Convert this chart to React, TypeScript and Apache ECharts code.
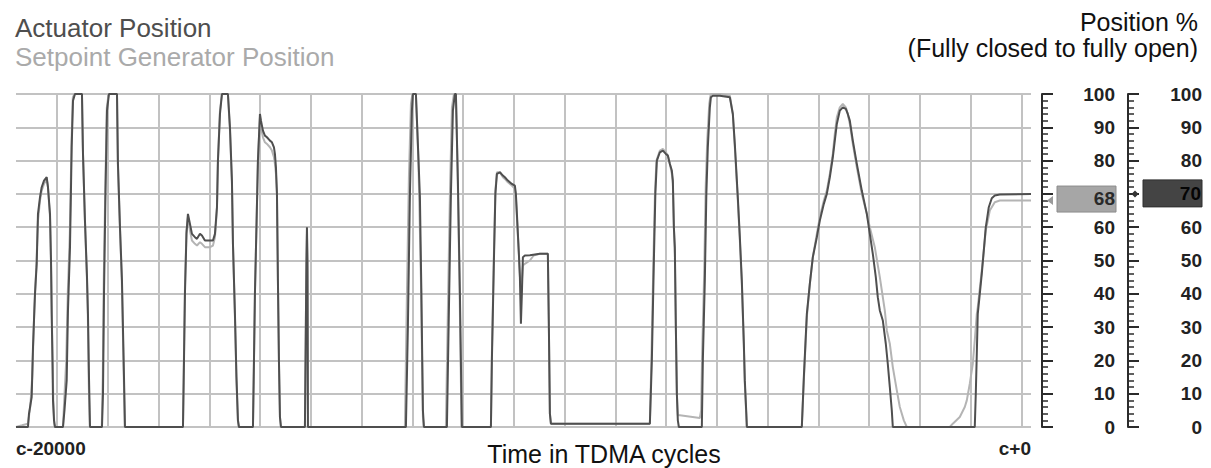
import React, { useEffect, useRef } from 'react';
import * as echarts from 'echarts';

const FONT = '"Liberation Sans", Arial, Helvetica, sans-serif';

const xMin = -20000;
const xMax = 0;
const xTickLabels = ['c-20000', 'c+0'];

const titleLines = ['Actuator Position', 'Setpoint Generator Position'];
const axisTitleLines = ['Position %', '(Fully closed to fully open)'];
const xAxisTitle = 'Time in TDMA cycles';

// grid lines every 1000 cycles, offset from the window start
const gridFirst = -19190;
const gridStep = 1000;
const gridCount = 20;

const currentSetpoint = 68;
const currentActuator = 70;

const actuatorPosition: [number, number][] = [
  [-20000, 0], [-19764, 0], [-19744, 4], [-19691, 9], [-19665, 24], [-19626, 40], [-19592, 49], [-19567, 64],
  [-19527, 69], [-19494, 72], [-19448, 74], [-19395, 75], [-19370, 72], [-19330, 64], [-19310, 50], [-19297, 34],
  [-19281, 20], [-19271, 8], [-19251, 2], [-19232, 0],
  [-19074, 0], [-19045, 5], [-19001, 14], [-18976, 35], [-18936, 54], [-18903, 84], [-18877, 98], [-18838, 100],
  [-18700, 100], [-18680, 82], [-18641, 62], [-18601, 45], [-18582, 34], [-18562, 15], [-18542, 0],
  [-18306, 0], [-18286, 10], [-18266, 40], [-18237, 70], [-18207, 95], [-18168, 100], [-18010, 100], [-17991, 79],
  [-17951, 60], [-17912, 44], [-17872, 15], [-17853, 0],
  [-16710, 0], [-16690, 20], [-16671, 40], [-16641, 58], [-16612, 64], [-16572, 61], [-16533, 58], [-16474, 57],
  [-16434, 56.5], [-16375, 58], [-16336, 57.5], [-16277, 56], [-16178, 56], [-16119, 56], [-16080, 58], [-16060, 62],
  [-16040, 66], [-16021, 80], [-15981, 94], [-15942, 100], [-15824, 100], [-15784, 90], [-15745, 74], [-15725, 55],
  [-15686, 34], [-15656, 15], [-15627, 2], [-15607, 0],
  [-15331, 0], [-15311, 20], [-15292, 40], [-15262, 60], [-15233, 80], [-15193, 94], [-15173, 92], [-15134, 89],
  [-15095, 87.5], [-15055, 87], [-14996, 86], [-14957, 85.5], [-14917, 84], [-14898, 82], [-14878, 78], [-14858, 70],
  [-14839, 44], [-14819, 20], [-14799, 3], [-14779, 0],
  [-14307, 0], [-14277, 50], [-14267, 60], [-14257, 50], [-14248, 0],
  [-12317, 0], [-12278, 30], [-12238, 70], [-12199, 95], [-12179, 100], [-12120, 100], [-12081, 85], [-12041, 69],
  [-12012, 40], [-11982, 5], [-11962, 0],
  [-11509, 0], [-11470, 35], [-11430, 70], [-11391, 95], [-11352, 100], [-11332, 100], [-11293, 74], [-11253, 40],
  [-11224, 10], [-11214, 0],
  [-10642, 0], [-10623, 20], [-10583, 50], [-10554, 70], [-10524, 76], [-10465, 76.5], [-10406, 75.5], [-10367, 75],
  [-10308, 74], [-10229, 73], [-10170, 72.5], [-10150, 70], [-10130, 64], [-10091, 52], [-10071, 45], [-10051, 31],
  [-10032, 40], [-10012, 51], [-9973, 51.5], [-9874, 51.6], [-9677, 52], [-9520, 52], [-9500, 30], [-9480, 4],
  [-9460, 1],
  [-7510, 1], [-7471, 20], [-7431, 50], [-7402, 70], [-7372, 80], [-7313, 82.5], [-7254, 83], [-7195, 82],
  [-7156, 81.5], [-7116, 79], [-7077, 77], [-7057, 74], [-7037, 60], [-7018, 54], [-6998, 30], [-6978, 10],
  [-6959, 2], [-6939, 0],
  [-6486, 0], [-6466, 20], [-6427, 44], [-6397, 70], [-6368, 84], [-6328, 96], [-6308, 99], [-6269, 99.5],
  [-6131, 99.5], [-5934, 99], [-5875, 94], [-5836, 85], [-5777, 69], [-5737, 57], [-5698, 44], [-5658, 25],
  [-5639, 14], [-5609, 4], [-5599, 0],
  [-4516, 0], [-4476, 15], [-4417, 34], [-4358, 43], [-4299, 51], [-4220, 57], [-4161, 62], [-4082, 67],
  [-4023, 70], [-3964, 75], [-3905, 81], [-3866, 86], [-3826, 91], [-3767, 95], [-3708, 96], [-3649, 95.5],
  [-3610, 94], [-3570, 92], [-3511, 86], [-3432, 79], [-3334, 71], [-3235, 64], [-3176, 58], [-3117, 52],
  [-3058, 45], [-3019, 39], [-2979, 35], [-2920, 32], [-2861, 25], [-2822, 19], [-2782, 12], [-2743, 5],
  [-2723, 0],
  [-1108, 0], [-1088, 10], [-1068, 22], [-1049, 34], [-1009, 40], [-970, 46], [-930, 53], [-891, 60],
  [-871, 62], [-832, 66], [-773, 68.7], [-714, 69.5], [-615, 69.8], [0, 70],
];

const setpointPosition: [number, number][] = [
  [-20000, 0], [-19880, 0.5], [-19764, 1], [-19720, 6], [-19680, 15], [-19640, 35], [-19600, 48], [-19567, 62],
  [-19527, 68], [-19494, 71], [-19448, 73], [-19395, 74.5], [-19370, 72], [-19330, 63], [-19305, 45], [-19285, 25],
  [-19265, 8], [-19245, 1], [-19232, 0],
  [-19074, 0], [-19050, 8], [-19010, 20], [-18980, 40], [-18940, 58], [-18905, 86], [-18880, 99], [-18845, 100],
  [-18700, 100], [-18685, 85], [-18645, 63], [-18605, 46], [-18585, 34], [-18565, 12], [-18545, 0],
  [-18310, 0], [-18290, 15], [-18270, 45], [-18240, 72], [-18210, 96], [-18175, 100], [-18010, 100], [-17995, 80],
  [-17955, 61], [-17915, 44], [-17875, 14], [-17855, 0],
  [-16710, 0], [-16690, 22], [-16671, 42], [-16641, 59], [-16612, 63], [-16572, 59], [-16533, 56], [-16474, 55],
  [-16434, 54.5], [-16375, 55.5], [-16336, 55], [-16277, 54], [-16178, 54], [-16119, 54.5], [-16080, 57], [-16060, 61],
  [-16040, 66], [-16021, 80], [-15981, 95], [-15942, 100], [-15824, 100], [-15784, 89], [-15745, 73], [-15725, 55],
  [-15686, 33], [-15656, 14], [-15627, 2], [-15607, 0],
  [-15331, 0], [-15311, 20], [-15292, 40], [-15262, 60], [-15233, 80], [-15193, 93], [-15173, 90], [-15134, 87],
  [-15095, 85.5], [-15055, 85], [-14996, 84], [-14957, 83], [-14917, 81], [-14898, 79], [-14878, 76], [-14858, 70],
  [-14839, 44], [-14819, 20], [-14799, 3], [-14779, 0],
  [-14307, 0], [-14280, 45], [-14267, 58], [-14255, 45], [-14245, 0],
  [-12337, 0], [-12297, 40], [-12258, 75], [-12218, 97], [-12189, 100], [-12120, 100], [-12071, 80], [-12022, 45],
  [-11982, 3], [-11965, 0],
  [-11529, 0], [-11490, 35], [-11450, 70], [-11410, 96], [-11370, 100], [-11332, 100], [-11300, 78], [-11260, 42],
  [-11230, 10], [-11220, 0],
  [-10642, 0], [-10623, 22], [-10583, 52], [-10554, 71], [-10524, 76.5], [-10465, 76.5], [-10406, 75], [-10367, 74.5],
  [-10308, 73.5], [-10229, 72.5], [-10170, 71.5], [-10150, 69], [-10130, 63], [-10091, 52], [-10060, 42], [-10032, 44],
  [-10012, 48.5], [-9973, 49], [-9874, 50], [-9800, 51.5], [-9677, 52], [-9520, 52], [-9500, 30], [-9480, 4],
  [-9460, 1],
  [-7510, 1], [-7480, 20], [-7440, 50], [-7410, 70], [-7380, 80], [-7313, 83], [-7254, 83.5], [-7195, 82.5],
  [-7156, 81.5], [-7116, 79], [-7077, 76], [-7057, 73], [-7037, 60], [-7018, 52], [-6998, 30], [-6978, 10],
  [-6959, 3.5], [-6919, 3.5], [-6525, 2.7], [-6500, 5],
  [-6480, 22], [-6440, 46], [-6410, 72], [-6380, 86], [-6340, 97], [-6310, 100], [-6269, 100], [-6131, 100],
  [-5934, 99.5], [-5875, 94], [-5836, 84], [-5777, 68], [-5737, 56], [-5698, 43], [-5658, 24], [-5639, 13],
  [-5609, 3], [-5599, 0],
  [-4516, 0], [-4476, 14], [-4417, 33], [-4358, 43], [-4299, 51], [-4220, 58], [-4161, 63], [-4082, 68],
  [-4023, 71], [-3964, 76], [-3905, 82], [-3866, 88], [-3826, 93], [-3767, 96], [-3708, 97], [-3649, 96],
  [-3610, 94], [-3570, 91], [-3511, 85], [-3432, 78], [-3334, 70], [-3235, 64], [-3176, 60], [-3078, 54],
  [-2979, 45], [-2881, 35], [-2841, 29], [-2782, 25], [-2723, 18], [-2644, 11], [-2585, 6], [-2506, 2],
  [-2447, 0],
  [-1600, 0], [-1541, 1], [-1403, 3], [-1305, 6], [-1265, 8], [-1206, 13], [-1147, 19], [-1108, 26],
  [-1068, 34], [-1049, 36], [-970, 47], [-891, 59], [-812, 65], [-714, 67.5], [-615, 68], [0, 68],
];

const GRID_COLOR = '#c2c2c2';
const AXIS_COLOR = '#2b2b2b';
const DARK_LINE = '#4f4f4f';
const LIGHT_LINE = '#b4b4b4';

// the axis label hidden behind the current-value box
function positionAxis(offset: number, margin: number, current: number) {
  return {
    type: 'value',
    position: 'right',
    offset,
    min: 0,
    max: 100,
    interval: 10,
    axisLine: { show: true, lineStyle: { color: AXIS_COLOR, width: 2 } },
    axisTick: { show: true, inside: false, length: 11, lineStyle: { color: AXIS_COLOR, width: 2 } },
    minorTick: { show: true, splitNumber: 5, length: 6, lineStyle: { color: AXIS_COLOR, width: 1.5 } },
    splitLine: { show: false },
    minorSplitLine: { show: false },
    axisLabel: {
      show: true,
      align: 'right',
      margin,
      fontSize: 19,
      fontWeight: 'bold',
      color: '#222',
      fontFamily: FONT,
      formatter: (v: number) => (Math.abs(v - current) < 6 ? '' : String(v)),
    },
  };
}

type MarkerCfg = {
  boxLeft: number; boxTop: number; boxW: number; boxH: number;
  fill: string; stroke: string; textColor: string; textDy: number;
  pointer: [number, number][]; pointerColor: string;
};

function markerSeries(value: number, yAxisIndex: number, cfg: MarkerCfg) {
  return {
    type: 'custom',
    xAxisIndex: 0,
    yAxisIndex,
    data: [[xMax, value]],
    clip: false,
    silent: true,
    z: 10,
    renderItem: (_params: any, api: any) => {
      const p = api.coord([api.value(0), api.value(1)]);
      const x = p[0];
      const y = p[1];
      return {
        type: 'group',
        children: [
          {
            type: 'polygon',
            shape: { points: cfg.pointer.map(([dx, dy]) => [x + dx, y + dy]) },
            style: { fill: cfg.pointerColor },
          },
          {
            type: 'rect',
            shape: { x: x + cfg.boxLeft, y: y + cfg.boxTop, width: cfg.boxW, height: cfg.boxH },
            style: { fill: cfg.fill, stroke: cfg.stroke, lineWidth: 1 },
          },
          {
            type: 'text',
            x: x + cfg.boxLeft + cfg.boxW - 1,
            y: y + cfg.textDy,
            style: {
              text: String(api.value(1)),
              align: 'right',
              verticalAlign: 'middle',
              fontSize: 19,
              fontWeight: 'bold',
              fontFamily: FONT,
              fill: cfg.textColor,
            },
          },
        ],
      };
    },
  };
}

export default function App() {
  const ref = useRef<HTMLDivElement>(null);

  useEffect(() => {
    if (!ref.current) return;
    const chart = echarts.init(ref.current, null, { renderer: 'svg' });
    const gridX = Array.from({ length: gridCount }, (_, k) => gridFirst + gridStep * k);

    const option: any = {
      animation: false,
      backgroundColor: '#ffffff',
      textStyle: { fontFamily: FONT },
      grid: { left: 16, right: 180, top: 94, bottom: 41, containLabel: false, outerBoundsMode: 'none' },
      graphic: [
        {
          type: 'text', x: 15, y: 28,
          style: { text: titleLines[0], fontSize: 26, lineHeight: 24, fontFamily: FONT, fill: '#4e4e4e', verticalAlign: 'middle' },
        },
        {
          type: 'text', x: 15, y: 57,
          style: { text: titleLines[1], fontSize: 26, lineHeight: 24, fontFamily: FONT, fill: '#aaaaaa', verticalAlign: 'middle' },
        },
        {
          type: 'text', x: 1198, y: 22,
          style: { text: axisTitleLines[0], fontSize: 25, lineHeight: 22, fontFamily: FONT, fill: '#111', align: 'right', verticalAlign: 'middle' },
        },
        {
          type: 'text', x: 1198, y: 48,
          style: { text: axisTitleLines[1], fontSize: 25, lineHeight: 22, fontFamily: FONT, fill: '#111', align: 'right', verticalAlign: 'middle' },
        },
        {
          type: 'text', x: 604, y: 454,
          style: { text: xAxisTitle, fontSize: 25, lineHeight: 20, fontFamily: FONT, fill: '#111', align: 'center', verticalAlign: 'middle' },
        },
      ],
      xAxis: {
        type: 'value',
        min: xMin,
        max: xMax,
        interval: xMax - xMin,
        axisLine: { show: false },
        axisTick: { show: false },
        splitLine: { show: false },
        axisLabel: {
          show: true,
          showMinLabel: true,
          showMaxLabel: true,
          alignMinLabel: 'left',
          alignMaxLabel: 'right',
          margin: 12,
          fontSize: 19,
          fontWeight: 'bold',
          color: '#222',
          fontFamily: FONT,
          formatter: (v: number) => (v === xMin ? xTickLabels[0] : xTickLabels[1]),
        },
      },
      yAxis: [
        {
          type: 'value',
          min: 0,
          max: 100,
          interval: 10,
          axisLine: { show: false },
          axisTick: { show: false },
          axisLabel: { show: false },
          splitLine: { show: true, lineStyle: { color: GRID_COLOR, width: 2 } },
        },
        positionAxis(11, 73, currentSetpoint),
        positionAxis(97, 74, currentActuator),
      ],
      series: [
        {
          type: 'line',
          data: [[xMin, 0]],
          symbol: 'none',
          lineStyle: { opacity: 0 },
          silent: true,
          z: 1,
          markLine: {
            silent: true,
            symbol: 'none',
            z: 1,
            animation: false,
            label: { show: false },
            lineStyle: { color: GRID_COLOR, width: 2, type: 'solid' },
            emphasis: { disabled: true },
            data: gridX.map((v) => ({ xAxis: v })),
          },
        },
        {
          name: titleLines[1],
          type: 'line',
          data: setpointPosition,
          symbol: 'none',
          showSymbol: false,
          lineStyle: { color: LIGHT_LINE, width: 2 },
          silent: true,
          z: 2,
        },
        {
          name: titleLines[0],
          type: 'line',
          data: actuatorPosition,
          symbol: 'none',
          showSymbol: false,
          lineStyle: { color: DARK_LINE, width: 2 },
          silent: true,
          z: 3,
        },
        markerSeries(currentSetpoint, 1, {
          boxLeft: 26, boxTop: -14.5, boxW: 59, boxH: 26,
          fill: '#a6a6a6', stroke: '#8c8c8c', textColor: '#2a2a2a', textDy: -2,
          pointer: [[16, 0], [22, -4.5], [22, 4.5]], pointerColor: '#9a9a9a',
        }),
        markerSeries(currentActuator, 2, {
          boxLeft: 112, boxTop: -14, boxW: 59, boxH: 27,
          fill: '#444444', stroke: '#2e2e2e', textColor: '#050505', textDy: -0.5,
          pointer: [[100.5, 0], [104, -3.5], [107.5, 0], [104, 3.5]], pointerColor: '#333333',
        }),
      ],
    };

    chart.setOption(option);
    return () => chart.dispose();
  }, []);

  return (
    <div
      ref={ref}
      style={{ position: 'fixed', left: 0, top: 0, width: 1211, height: 468, background: '#fff' }}
    />
  );
}
